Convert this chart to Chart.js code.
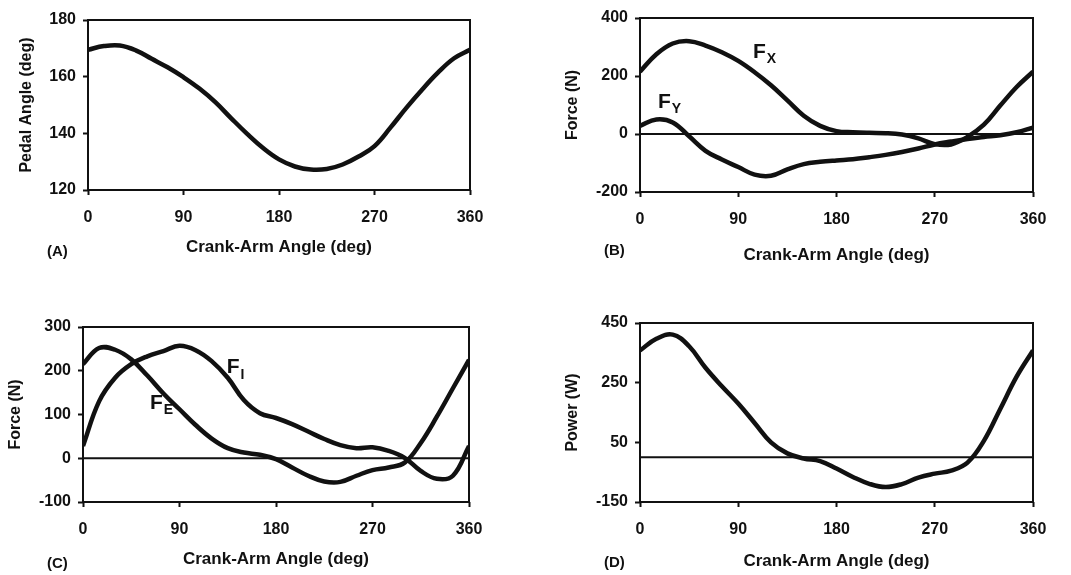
<!DOCTYPE html>
<html>
<head>
<meta charset="utf-8">
<script src="https://cdn.jsdelivr.net/npm/chart.js@4"></script>
<style>
  body { margin: 0; background: #fff; }
  #wrap { position: relative; width: 1071px; height: 575px; overflow: hidden; }
  .panel { position: absolute; }
  .tag { position: absolute; font: bold 15px "Liberation Sans", Arial, sans-serif; color: #111; }
</style>
</head>
<body>
<div id="wrap">
  <div class="panel" style="left:0;top:0"><canvas id="chartA" width="535" height="287"></canvas></div>
  <div class="panel" style="left:535px;top:0"><canvas id="chartB" width="536" height="287"></canvas></div>
  <div class="panel" style="left:0;top:287px"><canvas id="chartC" width="535" height="288"></canvas></div>
  <div class="panel" style="left:535px;top:287px"><canvas id="chartD" width="536" height="288"></canvas></div>
  <div class="tag" style="left:47px;top:242px">(A)</div>
  <div class="tag" style="left:604px;top:241px">(B)</div>
  <div class="tag" style="left:47px;top:554px">(C)</div>
  <div class="tag" style="left:604px;top:553px">(D)</div>
</div>
<script>
// crank angle, every 15 deg
const angles = [0, 15, 30, 45, 60, 75, 90, 105, 120, 135, 150, 165, 180,
                195, 210, 225, 240, 255, 270, 285, 300, 315, 330, 345, 360];

// (A) pedal angle (deg)
const pedalAngle = [169.5, 170.8, 171, 169.3, 166.3, 163.3, 159.8, 155.8, 151, 145.3, 139.8, 134.8, 130.8,
                    128.3, 127.2, 127.4, 129, 131.8, 135.5, 142, 149, 155.5, 161.5, 166.5, 169.5];
// (B) pedal forces (N)
const forceX = [215, 275, 312, 320, 305, 282, 252, 213, 168, 116, 63, 28, 10,
                6, 4, 3, -2, -15, -35, -36, -10, 32, 98, 162, 215];
const forceY = [28, 50, 40, -8, -58, -88, -114, -140, -144, -122, -104, -96, -91,
                -87, -80, -72, -62, -50, -36, -26, -17, -10, -4, 6, 22];
// (C) effective / ineffective force (N)
const forceE = [215, 252, 248, 226, 189, 148, 112, 76, 45, 23, 13, 8, -2,
                -21, -40, -53, -54, -40, -27, -21, -10, 35, 95, 160, 225];
const forceI = [28, 130, 184, 215, 233, 245, 257, 247, 222, 184, 133, 103, 92,
                78, 61, 44, 30, 23, 25, 17, 1, -29, -47, -40, 28];
// (D) power (W)
const power = [358, 397, 411, 372, 300, 238, 180, 115, 50, 13, -4, -13, -38,
               -66, -89, -100, -90, -68, -55, -45, -18, 55, 162, 270, 358];

const angleTicks = [0, 90, 180, 270, 360];
const pedalTicks = [120, 140, 160, 180];
const forceBTicks = [-200, 0, 200, 400];
const forceCTicks = [-100, 0, 100, 200, 300];
const powerTicks = [-150, 50, 250, 450];

const INK = '#111';
const FONT = '"Liberation Sans", Arial, sans-serif';

function pts(ys) {
  return angles.map((a, i) => ({x: a, y: ys[i]}));
}

function zeroLine() {
  return {data: [{x: 0, y: 0}, {x: 360, y: 0}], borderColor: INK, borderWidth: 2,
          pointRadius: 0, tension: 0};
}

function curve(ys) {
  return {data: pts(ys), borderColor: INK, borderWidth: 4.5, pointRadius: 0,
          tension: 0.4, fill: false};
}

// box round the plot area + F labels with subscripts
const framePlugin = {
  id: 'frame',
  afterDatasetsDraw(chart, args, opts) {
    const {ctx, chartArea: a, scales} = chart;
    ctx.save();
    ctx.strokeStyle = INK;
    ctx.lineWidth = 2;
    ctx.strokeRect(a.left, a.top, a.right - a.left, a.bottom - a.top);
    ctx.fillStyle = INK;
    ctx.textBaseline = 'middle';
    ctx.textAlign = 'left';
    (opts.labels || []).forEach(l => {
      const px = scales.x.getPixelForValue(l.x);
      const py = scales.y.getPixelForValue(l.y);
      ctx.font = 'bold 21px ' + FONT;
      ctx.fillText(l.text, px, py);
      const w = ctx.measureText(l.text).width;
      ctx.font = 'bold 14px ' + FONT;
      ctx.fillText(l.sub, px + w + 1, py + 7);
    });
    ctx.restore();
  }
};

function makePanel(id, cfg) {
  const canvas = document.getElementById(id);
  const W = canvas.width, H = canvas.height;
  const area = cfg.area;
  return new Chart(canvas, {
    type: 'line',
    data: {datasets: cfg.datasets},
    plugins: [framePlugin],
    options: {
      responsive: false,
      animation: false,
      layout: {padding: {left: 0, top: area.top, right: W - area.right, bottom: 0}},
      plugins: {
        legend: {display: false},
        tooltip: {enabled: false},
        frame: {labels: cfg.labels}
      },
      scales: {
        x: {
          type: 'linear', min: 0, max: 360,
          afterFit: s => { s.height = H - area.bottom; },
          afterBuildTicks: s => { s.ticks = angleTicks.map(v => ({value: v})); },
          border: {display: false},
          grid: {drawOnChartArea: false, drawTicks: true, tickLength: 5, tickWidth: 2, tickColor: INK},
          ticks: {color: INK, font: {family: FONT, size: 16, weight: 'bold'}, padding: 13, maxRotation: 0},
          title: {display: true, text: 'Crank-Arm Angle (deg)', color: INK,
                  font: {family: FONT, size: 17, weight: 'bold'},
                  padding: {top: 0, bottom: cfg.xTitlePad}}
        },
        y: {
          type: 'linear', min: cfg.yTicks[0], max: cfg.yTicks[cfg.yTicks.length - 1],
          afterFit: s => { s.width = area.left; },
          afterBuildTicks: s => { s.ticks = cfg.yTicks.map(v => ({value: v})); },
          border: {display: false},
          grid: {drawOnChartArea: false, drawTicks: true, tickLength: 5, tickWidth: 2, tickColor: INK},
          ticks: {color: INK, font: {family: FONT, size: 16, weight: 'bold'}, padding: 7},
          title: {display: true, text: cfg.yTitle, color: INK,
                  font: {family: FONT, size: 16, weight: 'bold'},
                  padding: {top: cfg.yTitlePad, bottom: 0}}
        }
      }
    }
  });
}

makePanel('chartA', {
  area: {left: 88, top: 20, right: 470, bottom: 190},
  yTicks: pedalTicks, yTitle: 'Pedal Angle (deg)', yTitlePad: 17, xTitlePad: 29,
  datasets: [curve(pedalAngle)]
});

makePanel('chartB', {
  area: {left: 105, top: 18, right: 498, bottom: 192},
  yTicks: forceBTicks, yTitle: 'Force (N)', yTitlePad: 28, xTitlePad: 21,
  datasets: [zeroLine(), curve(forceX), curve(forceY)],
  labels: [{text: 'F', sub: 'X', x: 103.5, y: 281}, {text: 'F', sub: 'Y', x: 16.5, y: 109}]
});

makePanel('chartC', {
  area: {left: 83, top: 40, right: 469, bottom: 215},
  yTicks: forceCTicks, yTitle: 'Force (N)', yTitlePad: 6, xTitlePad: 5,
  datasets: [zeroLine(), curve(forceE), curve(forceI)],
  labels: [{text: 'F', sub: 'I', x: 134, y: 207}, {text: 'F', sub: 'E', x: 62.5, y: 126}]
});

makePanel('chartD', {
  area: {left: 105, top: 36, right: 498, bottom: 215},
  yTicks: powerTicks, yTitle: 'Power (W)', yTitlePad: 28, xTitlePad: 3,
  datasets: [zeroLine(), curve(power)]
});
</script>
</body>
</html>
